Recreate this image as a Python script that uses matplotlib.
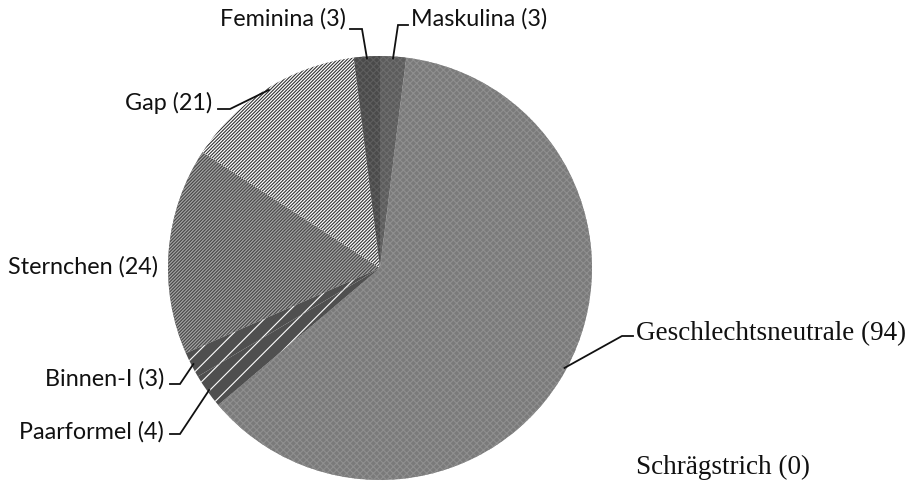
import numpy as np
import matplotlib
matplotlib.use('Agg')
import matplotlib.pyplot as plt

# data, clockwise from 12 o'clock
labels = ['Maskulina', 'Geschlechtsneutrale', 'Schrägstrich', 'Paarformel',
          'Binnen-I', 'Sternchen', 'Gap', 'Feminina']
counts = [3, 94, 0, 4, 3, 24, 21, 3]

# fill styles per slice: face, hatch colour, hatch
faces = ['#5c5c5c', '#7a7a7a', '#7a7a7a', '#4f4f4f', '#4f4f4f', '#4a4a4a', '#ffffff', '#4a4a4a']
hatch_cols = ['#6e6e6e', '#8f8f8f', '#8f8f8f', '#ffffff', '#ffffff', '#a8a8a8', '#333333', '#5e5e5e']
hatches = ['xxxxx', 'xxxxx', 'xxxxx', '//', '//', '/' * 10, '/' * 10, 'xxxxx']

plt.rcParams['hatch.linewidth'] = 0.8

# layout in pixels of the reference
W, H = 908, 484
cx, cy, R = 380, 268, 212

def px(x, y):
    return (x - cx) / R, (cy - y) / R

fig = plt.figure(figsize=(W / 100, H / 100), dpi=100)
ax = fig.add_axes([0, 0, 1, 1])

nz = [(l, c, f, hc, h) for l, c, f, hc, h in zip(labels, counts, faces, hatch_cols, hatches) if c > 0]
wedges, _ = ax.pie([n[1] for n in nz], startangle=90, counterclock=False,
                   radius=1, center=(0, 0), wedgeprops=dict(linewidth=0))
for w, n in zip(wedges, nz):
    w.set_facecolor(n[2])
    w.set_edgecolor(n[3])
    w.set_hatch(n[4])
    w.set_linewidth(0)

ax.set_xlim(-cx / R, (W - cx) / R)
ax.set_ylim((cy - H) / R, cy / R)
ax.axis('off')

# mid angle of each slice
mid = {}
for w, n in zip(wedges, nz):
    mid[n[0]] = np.deg2rad((w.theta1 + w.theta2) / 2)

sans = 'Lato'
serif = 'Liberation Serif'
# label: (text x, text y, ha, elbow, tick end, font)
lab_pos = {
    'Maskulina': (411, 19, 'left', (398, 25), (408, 25), sans),
    'Feminina': (346, 19, 'right', (362, 29), (350, 29), sans),
    'Gap': (212, 103, 'right', (230, 109), (218, 109), sans),
    'Sternchen': (158, 267, 'right', None, None, sans),
    'Binnen-I': (164, 379, 'right', (180, 384), (170, 384), sans),
    'Paarformel': (164, 432, 'right', (180, 434), (170, 434), sans),
    'Geschlechtsneutrale': (636, 334, 'left', (622, 336), (633, 336), serif),
    'Schrägstrich': (636, 467, 'left', None, None, serif),
}

for l, c in zip(labels, counts):
    tx, ty, ha, elbow, tick, fam = lab_pos[l]
    x, y = px(tx, ty)
    size = 19.5 if fam == serif else 16.8
    ax.text(x, y, f'{l} ({c})', ha=ha, va='center', fontsize=size,
            family=fam, color='#111111')
    if elbow is not None:
        a = mid[l]
        sx, sy = np.cos(a) * 0.99, np.sin(a) * 0.99
        ex, ey = px(*elbow)
        tx2, ty2 = px(*tick)
        ax.plot([sx, ex, tx2], [sy, ey, ty2], color='#111111', lw=1.3,
                solid_joinstyle='miter')

fig.savefig('out.png', dpi=100)
